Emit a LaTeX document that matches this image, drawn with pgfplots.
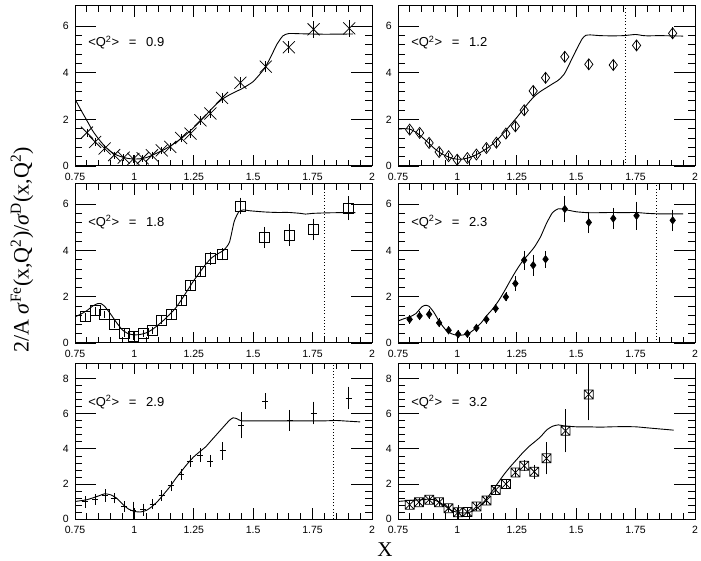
\documentclass[border=0pt]{standalone}
\usepackage{pgfplots}
\usepackage{pgfplotstable}
\pgfplotsset{compat=1.18}
\usepackage{fontspec}
\setmainfont{Liberation Serif}
\newfontfamily\sans{Liberation Sans}
\pgfdeclareplotmark{sqx}{%
 \pgfpathrectangle{\pgfqpoint{-\pgfplotmarksize}{-\pgfplotmarksize}}{\pgfqpoint{2\pgfplotmarksize}{2\pgfplotmarksize}}%
 \pgfpathmoveto{\pgfqpoint{-\pgfplotmarksize}{-\pgfplotmarksize}}\pgfpathlineto{\pgfqpoint{\pgfplotmarksize}{\pgfplotmarksize}}%
 \pgfpathmoveto{\pgfqpoint{-\pgfplotmarksize}{\pgfplotmarksize}}\pgfpathlineto{\pgfqpoint{\pgfplotmarksize}{-\pgfplotmarksize}}%
 \pgfusepathqstroke}

% ---------- data: Q2 = 0.9 ----------
\pgfplotstableread{
x y ey
0.800 1.43 0.06
0.835 1.03 0.05
0.875 0.75 0.05
0.915 0.47 0.04
0.955 0.36 0.04
0.996 0.30 0.04
1.035 0.33 0.04
1.074 0.46 0.05
1.115 0.67 0.05
1.151 0.82 0.06
1.197 1.20 0.06
1.236 1.39 0.07
1.278 1.96 0.08
1.320 2.25 0.08
1.369 2.92 0.09
1.446 3.57 0.12
1.553 4.26 0.12
1.650 5.09 0.14
1.754 5.86 0.24
1.904 5.90 0.25
}\dA
\pgfplotstableread{
x y
0.75 2.87
0.775 2.40
0.80 1.95
0.825 1.50
0.85 1.15
0.875 0.85
0.90 0.62
0.925 0.47
0.95 0.38
0.975 0.32
1.0 0.30
1.025 0.31
1.05 0.36
1.075 0.46
1.10 0.58
1.125 0.70
1.15 0.85
1.175 1.02
1.20 1.20
1.225 1.42
1.25 1.65
1.275 1.90
1.30 2.17
1.325 2.45
1.35 2.70
1.375 2.90
1.40 3.05
1.425 3.18
1.45 3.30
1.475 3.45
1.50 3.62
1.525 3.90
1.55 4.22
1.575 4.70
1.60 5.22
1.625 5.58
1.65 5.68
1.70 5.67
1.80 5.65
1.92 5.66
}\cA
% ---------- data: Q2 = 1.2 ----------
\pgfplotstableread{
x y ey
0.799 1.56 0.06
0.841 1.42 0.06
0.881 0.99 0.05
0.923 0.60 0.05
0.963 0.42 0.04
0.999 0.27 0.04
1.042 0.34 0.04
1.080 0.49 0.05
1.122 0.77 0.05
1.164 1.00 0.06
1.204 1.39 0.06
1.244 1.70 0.07
1.281 2.39 0.08
1.319 3.22 0.09
1.371 3.78 0.10
1.452 4.68 0.12
1.553 4.36 0.12
1.656 4.33 0.12
1.754 5.17 0.12
1.906 5.69 0.15
}\dB
\pgfplotstableread{
x y
0.75 1.58
0.775 1.60
0.80 1.58
0.825 1.45
0.85 1.25
0.875 1.02
0.90 0.78
0.925 0.58
0.95 0.44
0.975 0.34
1.0 0.29
1.025 0.30
1.05 0.36
1.075 0.46
1.10 0.60
1.125 0.76
1.15 0.95
1.175 1.20
1.20 1.48
1.225 1.78
1.25 2.08
1.275 2.40
1.30 2.72
1.325 3.00
1.35 3.20
1.375 3.36
1.40 3.52
1.425 3.68
1.45 3.95
1.475 4.45
1.50 4.97
1.525 5.45
1.54 5.60
1.56 5.62
1.60 5.59
1.65 5.58
1.70 5.59
1.75 5.64
1.775 5.60
1.80 5.58
1.85 5.59
1.90 5.58
1.95 5.57
}\cB
% ---------- data: Q2 = 1.8 ----------
\pgfplotstableread{
x y ey
0.792 1.13 0.05
0.834 1.39 0.05
0.874 1.24 0.05
0.914 0.81 0.05
0.958 0.43 0.05
0.996 0.30 0.05
1.038 0.40 0.05
1.077 0.55 0.05
1.115 0.98 0.06
1.157 1.24 0.07
1.197 1.85 0.08
1.235 2.47 0.10
1.277 3.10 0.12
1.319 3.65 0.15
1.371 3.84 0.15
1.447 5.92 0.25
1.548 4.56 0.35
1.652 4.66 0.35
1.754 4.91 0.35
1.902 5.82 0.40
}\dC
\pgfplotstableread{
x y
0.75 1.13
0.775 1.25
0.80 1.40
0.825 1.60
0.845 1.70
0.86 1.70
0.875 1.58
0.90 1.25
0.925 0.88
0.95 0.56
0.975 0.40
1.0 0.35
1.025 0.37
1.05 0.44
1.075 0.58
1.10 0.78
1.125 1.00
1.15 1.25
1.175 1.53
1.20 1.90
1.225 2.30
1.25 2.70
1.275 3.05
1.30 3.40
1.325 3.68
1.35 3.85
1.375 4.00
1.40 4.35
1.42 5.25
1.44 5.68
1.46 5.75
1.48 5.72
1.50 5.70
1.55 5.66
1.60 5.64
1.65 5.64
1.70 5.60
1.72 5.57
1.75 5.60
1.80 5.62
1.85 5.63
1.90 5.63
1.93 5.63
}\cC
% ---------- data: Q2 = 2.3 ----------
\pgfplotstableread{
x y ey
0.799 1.02 0.08
0.841 1.17 0.08
0.881 1.24 0.10
0.923 0.87 0.08
0.963 0.55 0.07
1.003 0.38 0.06
1.042 0.40 0.07
1.080 0.65 0.07
1.122 1.02 0.08
1.161 1.49 0.08
1.204 1.99 0.08
1.244 2.57 0.20
1.281 3.58 0.30
1.319 3.36 0.35
1.371 3.62 0.25
1.452 5.79 0.45
1.553 5.21 0.35
1.656 5.38 0.35
1.754 5.50 0.50
1.906 5.30 0.35
}\dD
\pgfplotstableread{
x y
0.75 0.95
0.775 1.05
0.80 1.13
0.825 1.27
0.85 1.56
0.865 1.63
0.88 1.59
0.90 1.34
0.925 0.91
0.95 0.58
0.975 0.40
1.0 0.33
1.025 0.35
1.05 0.43
1.075 0.62
1.10 0.87
1.125 1.20
1.15 1.49
1.175 1.85
1.20 2.28
1.225 2.74
1.25 3.17
1.275 3.55
1.30 3.84
1.325 4.16
1.35 4.59
1.375 5.17
1.40 5.63
1.425 5.80
1.45 5.77
1.50 5.67
1.55 5.63
1.60 5.63
1.65 5.64
1.70 5.63
1.75 5.64
1.80 5.60
1.85 5.58
1.90 5.58
1.95 5.58
}\cD
% ---------- data: Q2 = 2.9 ----------
\pgfplotstableread{
x y ey
0.792 0.98 0.18
0.834 1.10 0.15
0.876 1.34 0.20
0.914 1.19 0.15
0.958 0.72 0.15
0.996 0.49 0.35
1.038 0.53 0.20
1.077 0.85 0.15
1.115 1.34 0.15
1.154 1.89 0.15
1.197 2.55 0.15
1.235 3.31 0.20
1.277 3.65 0.25
1.319 3.31 0.20
1.371 3.89 0.35
1.449 5.35 0.60
1.551 6.73 0.30
1.653 5.63 0.45
1.754 6.05 0.50
1.902 6.90 0.50
}\dE
\pgfplotstableread{
x y
0.75 1.00
0.80 1.10
0.85 1.32
0.875 1.44
0.90 1.38
0.925 1.19
0.95 0.85
0.975 0.57
1.0 0.43
1.025 0.40
1.05 0.49
1.075 0.72
1.10 1.04
1.125 1.44
1.15 1.85
1.175 2.33
1.20 2.76
1.225 3.18
1.25 3.55
1.275 3.84
1.30 4.12
1.325 4.50
1.35 4.88
1.375 5.26
1.40 5.63
1.415 5.77
1.43 5.73
1.45 5.60
1.50 5.60
1.60 5.60
1.70 5.60
1.80 5.60
1.85 5.62
1.90 5.58
1.95 5.54
}\cE
% ---------- data: Q2 = 3.2 ----------
\pgfplotstableread{
x y ey
0.799 0.81 0.08
0.838 0.96 0.08
0.881 1.10 0.08
0.923 0.95 0.08
0.963 0.62 0.08
1.003 0.38 0.28
1.042 0.40 0.10
1.080 0.72 0.10
1.122 1.06 0.10
1.161 1.66 0.10
1.204 2.00 0.10
1.244 2.65 0.12
1.281 3.04 0.15
1.323 2.70 0.25
1.375 3.46 0.76
1.455 5.03 1.08
1.553 7.11 1.33
}\dF
\pgfplotstableread{
x y
0.75 1.00
0.80 1.06
0.85 1.10
0.875 1.13
0.90 1.10
0.925 0.95
0.95 0.72
0.975 0.49
1.0 0.38
1.025 0.34
1.05 0.38
1.075 0.53
1.10 0.81
1.125 1.19
1.15 1.66
1.175 2.14
1.20 2.61
1.225 3.02
1.25 3.40
1.275 3.78
1.30 4.12
1.325 4.40
1.35 4.69
1.375 5.07
1.40 5.29
1.425 5.37
1.45 5.31
1.50 5.26
1.55 5.26
1.60 5.24
1.65 5.26
1.70 5.27
1.75 5.26
1.80 5.20
1.85 5.14
1.91 5.07
}\cF

\pgfplotsset{
  base/.style={
    scale only axis, width=297pt,
    xmin=0.75, xmax=2, ymin=0,
    axis line style={line width=1pt},
    tick align=inside,
    tick style={line width=0.8pt, black},
    tick label style={font=\sans\fontsize{10.5}{12}\selectfont, inner sep=0pt},
    /pgf/number format/assume math mode=true,
    anchor=south west,
  },
  xax/.style={base,
    xtick={0.75,1,1.25,1.5,1.75,2},
    xticklabels={0.75,1,1.25,1.5,1.75,2},
    minor x tick num=4,
    major tick length=11pt, minor tick length=6pt,
    ytick=\empty,
    xticklabel style={yshift=-7pt},
  },
  yax/.style={base,
    xtick=\empty,
    minor y tick num=4,
    major tick length=21pt, minor tick length=7pt,
    yticklabel style={xshift=-6pt},
  },
  g1/.style={height=160pt, ymax=6.86},
  g2/.style={height=159pt, ymax=6.87},
  g3/.style={height=156pt, ymax=8.9},
  curve/.style={no markers, line width=0.9pt, black, smooth, tension=0.35},
  pts/.style={only marks, black, line width=0.75pt,
    error bars/y dir=both, error bars/y explicit,
    error bars/error bar style={line width=0.75pt},
    error bars/error mark options={mark size=2.6pt, line width=0.75pt}},
  xbar/.style={only marks, mark=none, black, line width=0.75pt,
    error bars/x dir=both, error bars/x fixed=#1, error bars/error mark=none,
    error bars/error bar style={line width=0.75pt}},
  vdot/.style={no markers, black, line width=0.8pt, dash pattern=on 0.8pt off 2.4pt},
}
\tikzset{qlab/.style={anchor=west, inner sep=0pt, font=\sans\fontsize{13}{15}\selectfont}}
\newcommand\qtext[1]{<Q\textsuperscript{2}>\hspace{0.75em}=\hspace{0.75em}#1}

\begin{document}
\begin{tikzpicture}
\useasboundingbox (0,0) rectangle (701pt,560pt);

% ---- Q2 = 0.9 ----
\begin{axis}[xax, g1, at={(75pt,394pt)}]
\addplot[curve] table[x=x,y=y] {\cA};
\addplot[pts, mark=x, mark size=8.5pt] table[x=x,y=y,y error=ey] {\dA};
\node[qlab] at (rel axis cs:0.044,0.77) {\qtext{0.9}};
\end{axis}
\begin{axis}[yax, g1, at={(75pt,394pt)}, ytick={0,2,4,6}, yticklabels={0,2,4,6}]
\end{axis}

% ---- Q2 = 1.2 ----
\begin{axis}[xax, g1, at={(398pt,394pt)}]
\addplot[curve] table[x=x,y=y] {\cB};
\addplot[pts, mark=diamond, mark size=5.5pt] table[x=x,y=y,y error=ey] {\dB};
\addplot[vdot] coordinates {(1.705,0) (1.705,6.86)};
\node[qlab] at (rel axis cs:0.044,0.77) {\qtext{1.2}};
\end{axis}
\begin{axis}[yax, g1, at={(398pt,394pt)}, ytick={0,2,4,6}, yticklabels={0,2,4,6}]
\end{axis}

% ---- Q2 = 1.8 ----
\begin{axis}[xax, g2, at={(75pt,217pt)}]
\addplot[curve] table[x=x,y=y] {\cC};
\addplot[pts, mark=square, mark size=5pt] table[x=x,y=y,y error=ey] {\dC};
\addplot[vdot] coordinates {(1.80,0) (1.80,6.87)};
\node[qlab] at (rel axis cs:0.044,0.76) {\qtext{1.8}};
\end{axis}
\begin{axis}[yax, g2, at={(75pt,217pt)}, ytick={0,2,4,6}, yticklabels={0,2,4,6}]
\end{axis}

% ---- Q2 = 2.3 ----
\begin{axis}[xax, g2, at={(398pt,217pt)}]
\addplot[curve] table[x=x,y=y] {\cD};
\addplot[xbar=0.02] table[x=x,y=y] {\dD};
\addplot[pts, mark=diamond*, mark size=3.6pt] table[x=x,y=y,y error=ey] {\dD};
\addplot[vdot] coordinates {(1.836,0) (1.836,6.87)};
\node[qlab] at (rel axis cs:0.044,0.76) {\qtext{2.3}};
\end{axis}
\begin{axis}[yax, g2, at={(398pt,217pt)}, ytick={0,2,4,6}, yticklabels={0,2,4,6}]
\end{axis}

% ---- Q2 = 2.9 ----
\begin{axis}[xax, g3, at={(75pt,41pt)}]
\addplot[curve] table[x=x,y=y] {\cE};
\addplot[xbar=0.022] table[x=x,y=y] {\dE};
\addplot[pts, mark=+, mark size=3pt] table[x=x,y=y,y error=ey] {\dE};
\addplot[vdot] coordinates {(1.837,0) (1.837,8.9)};
\node[qlab] at (rel axis cs:0.044,0.75) {\qtext{2.9}};
\end{axis}
\begin{axis}[yax, g3, at={(75pt,41pt)}, ytick={0,2,4,6,8}, yticklabels={0,2,4,6,8}]
\end{axis}

% ---- Q2 = 3.2 ----
\begin{axis}[xax, g3, at={(398pt,41pt)}]
\addplot[curve] table[x=x,y=y] {\cF};
\addplot[pts, mark=sqx, mark size=4.5pt] table[x=x,y=y,y error=ey] {\dF};
\node[qlab] at (rel axis cs:0.044,0.75) {\qtext{3.2}};
\end{axis}
\begin{axis}[yax, g3, at={(398pt,41pt)}, ytick={0,2,4,6,8}, yticklabels={0,2,4,6,8}]
\end{axis}

\node[rotate=90, inner sep=0pt, font=\fontsize{22}{26}\selectfont] at (22pt,310pt)
  {2/A \textit{σ}\textsuperscript{Fe}(x,Q\textsuperscript{2})/\textit{σ}\textsuperscript{D}(x,Q\textsuperscript{2})};
\node[anchor=base, inner sep=0pt, font=\fontsize{21}{25}\selectfont] at (385pt,3.5pt) {X};
\end{tikzpicture}
\end{document}
